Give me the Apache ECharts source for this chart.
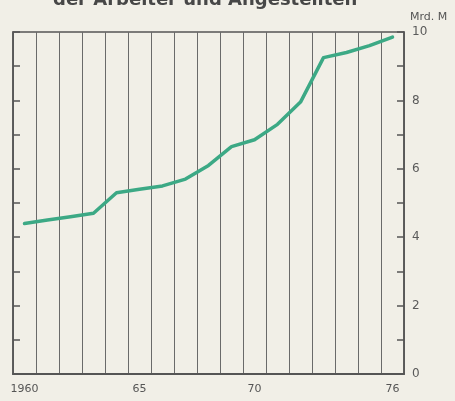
<!DOCTYPE html>
<html>
<head>
<meta charset="utf-8">
<script src="https://cdn.jsdelivr.net/npm/echarts@6/dist/echarts.min.js"></script>
<style>
  html, body { margin: 0; padding: 0; background: #f1efe7; }
  #chart { width: 455px; height: 401px; }
</style>
</head>
<body>
<div id="chart"></div>
<script>
// Jahre 1960-1976
const years = ['1960', '61', '62', '63', '64', '65', '66', '67', '68', '69',
               '70', '71', '72', '73', '74', '75', '76'];
// Mrd. M
const values = [4.4, 4.5, 4.6, 4.7, 5.3, 5.4, 5.5, 5.7, 6.1, 6.65,
                6.85, 7.3, 7.95, 9.25, 9.4, 9.6, 9.85];
const shownYearIdx = [0, 5, 10, 16];
const frame = '#555';

const chart = echarts.init(document.getElementById('chart'));

chart.setOption({
  backgroundColor: '#f1efe7',
  animation: false,
  graphic: [{
    type: 'text',
    left: 53,
    top: -9,
    style: {
      text: 'der Arbeiter und Angestellten',
      font: 'bold 18px "DejaVu Sans"',
      fill: '#474747'
    }
  }],
  grid: {
    left: 13, right: 51, top: 32, bottom: 27,
    show: true,
    borderColor: frame,
    borderWidth: 1.5,
    backgroundColor: 'transparent'
  },
  xAxis: {
    type: 'category',
    data: years,
    boundaryGap: true,
    axisLine: { lineStyle: { color: frame, width: 2 } },
    axisTick: { show: false },
    axisLabel: {
      interval: (i) => shownYearIdx.includes(i),
      color: '#555',
      fontSize: 11,
      fontFamily: 'DejaVu Sans',
      margin: 10
    },
    splitLine: { show: true, interval: 0, lineStyle: { color: '#6a6a6a', width: 1 } }
  },
  yAxis: [{
    type: 'value',
    position: 'right',
    min: 0, max: 10, interval: 1,
    name: 'Mrd. M',
    nameLocation: 'end',
    nameGap: 9,
    nameTextStyle: { color: '#555', fontSize: 11, fontFamily: 'DejaVu Sans', align: 'left', padding: [0, 0, 0, 6] },
    axisLine: { show: true, lineStyle: { color: frame, width: 1.5 } },
    axisTick: { show: true, inside: true, length: 7, lineStyle: { color: frame, width: 1.5 } },
    axisLabel: {
      formatter: (v) => (v % 2 === 0 ? String(v) : ''),
      color: '#5a5a5a',
      fontSize: 12,
      fontFamily: 'DejaVu Sans',
      margin: 8
    },
    splitLine: { show: false }
  }, {
    type: 'value',
    position: 'left',
    min: 0, max: 10, interval: 1,
    axisLine: { show: true, lineStyle: { color: frame, width: 1.5 } },
    axisTick: { show: true, inside: true, length: 7, lineStyle: { color: frame, width: 1.5 } },
    axisLabel: { show: false },
    splitLine: { show: false }
  }],
  series: [{
    type: 'line',
    data: values,
    yAxisIndex: 0,
    symbol: 'none',
    lineStyle: { color: '#3ca985', width: 3.5, cap: 'round', join: 'round' }
  }]
});
</script>
</body>
</html>
